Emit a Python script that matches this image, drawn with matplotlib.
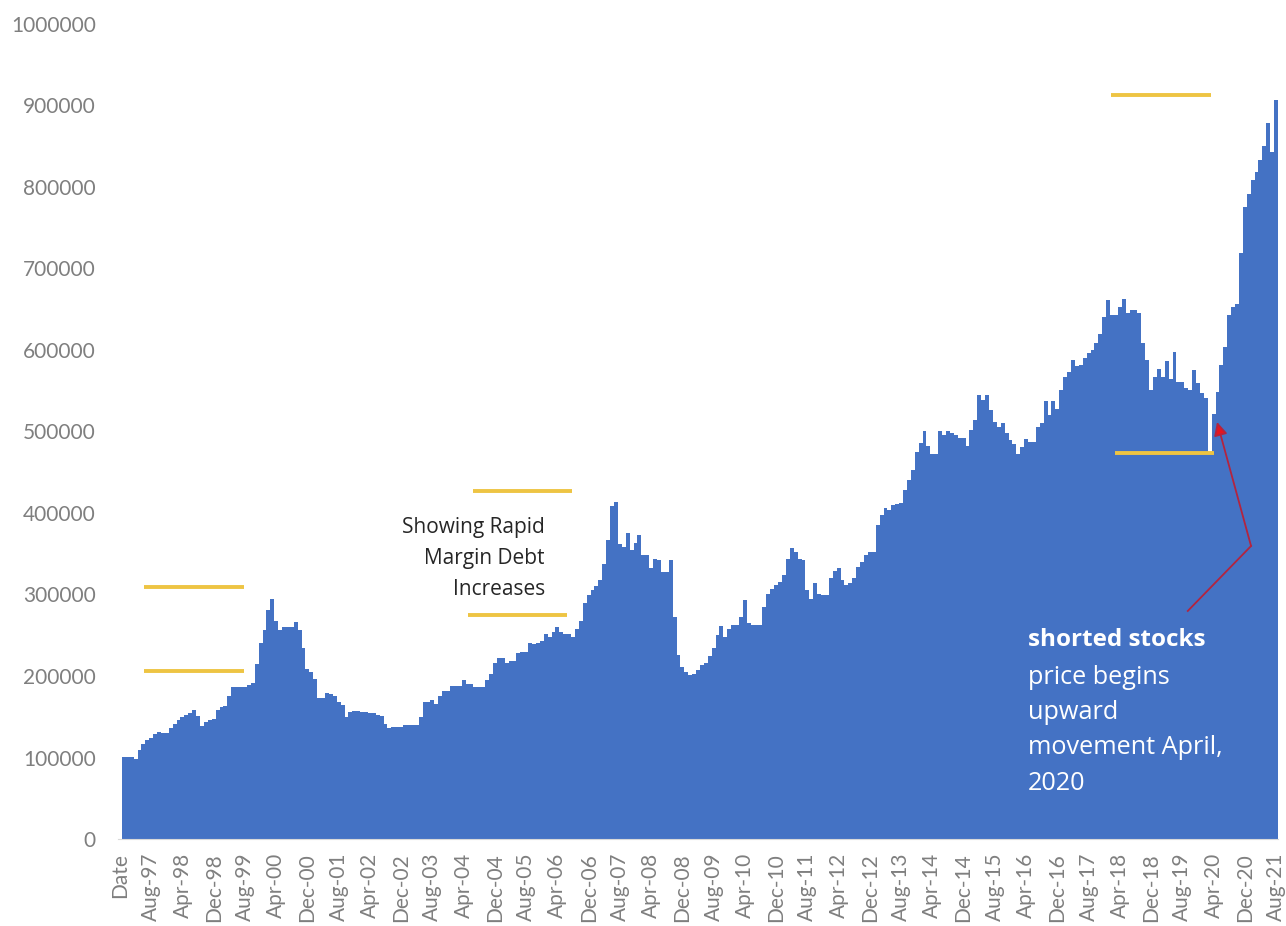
import numpy as np
import pandas as pd
import matplotlib.pyplot as plt

# monthly margin debt, in thousands, Jan-97 .. Aug-21
debt_1997 = [101, 101, 101, 98, 109, 117, 121, 124, 129, 131, 130, 130]
debt_1998 = [136, 141, 146, 150, 152, 155, 158, 151, 139, 143, 146, 147]
debt_1999 = [158, 162, 163, 176, 187, 187, 186, 187, 189, 191, 215, 241]
debt_2000 = [256, 281, 295, 267, 256, 260, 260, 260, 266, 256, 234, 208]
debt_2001 = [205, 196, 173, 173, 179, 178, 175, 168, 164, 150, 156, 157]
debt_2002 = [157, 156, 156, 155, 154, 152, 151, 141, 136, 138, 138, 138]
debt_2003 = [140, 140, 140, 140, 150, 168, 168, 171, 166, 175, 181, 181]
debt_2004 = [188, 188, 188, 195, 190, 190, 187, 187, 187, 195, 203, 216]
debt_2005 = [222, 222, 216, 218, 218, 228, 230, 230, 240, 239, 240, 243]
debt_2006 = [252, 248, 254, 260, 254, 251, 251, 248, 258, 267, 289, 299]
debt_2007 = [305, 310, 318, 338, 367, 408, 414, 362, 358, 375, 355, 363]
debt_2008 = [373, 348, 348, 332, 344, 342, 328, 328, 342, 273, 226, 211]
debt_2009 = [205, 201, 203, 207, 213, 216, 224, 234, 250, 261, 248, 258]
debt_2010 = [262, 262, 272, 293, 265, 262, 262, 262, 285, 301, 307, 312]
debt_2011 = [315, 324, 344, 357, 352, 344, 342, 305, 295, 314, 301, 299]
debt_2012 = [299, 320, 329, 332, 318, 312, 314, 320, 334, 340, 348, 352]
debt_2013 = [352, 385, 398, 406, 404, 410, 411, 412, 428, 441, 453, 475]
debt_2014 = [486, 500, 482, 473, 473, 500, 496, 500, 498, 496, 492, 492]
debt_2015 = [482, 502, 514, 545, 539, 545, 526, 512, 505, 510, 498, 490]
debt_2016 = [485, 473, 481, 491, 487, 487, 506, 510, 537, 520, 537, 528]
debt_2017 = [551, 567, 573, 588, 580, 582, 590, 596, 600, 608, 620, 641]
debt_2018 = [661, 643, 643, 653, 663, 645, 649, 649, 645, 608, 588, 551]
debt_2019 = [567, 577, 567, 586, 565, 598, 561, 561, 553, 551, 575, 559]
debt_2020 = [547, 541, 475, 522, 549, 582, 604, 643, 653, 657, 719, 776]
debt_2021 = [792, 809, 819, 833, 850, 878, 843, 907]

margin_debt = np.array(
    debt_1997 + debt_1998 + debt_1999 + debt_2000 + debt_2001 + debt_2002
    + debt_2003 + debt_2004 + debt_2005 + debt_2006 + debt_2007 + debt_2008
    + debt_2009 + debt_2010 + debt_2011 + debt_2012 + debt_2013 + debt_2014
    + debt_2015 + debt_2016 + debt_2017 + debt_2018 + debt_2019 + debt_2020
    + debt_2021) * 1000

# first category is the column header that ended up in the range
months = pd.date_range("1997-01-01", periods=len(margin_debt), freq="MS").strftime("%b-%y")
categories = ["Date"] + list(months)

blue = "#4472C4"
gold = "#EEC443"
grey = "#7F7F7F"

fig = plt.figure(figsize=(12.86, 9.26), dpi=100)
ax = fig.add_axes([118 / 1286, 87 / 926, 1160 / 1286, 815 / 926])

x = np.arange(1, len(categories))
# no antialiasing so neighbouring columns join without hairline gaps
ax.bar(x, margin_debt, width=1.0, color=blue, linewidth=0, antialiased=False)

ax.set_xlim(-0.5, len(categories) - 0.5)
ax.set_ylim(0, 1000000)
ax.set_xticks(np.arange(0, len(categories), 8))
ax.set_xticklabels(categories[::8], rotation=90, fontsize=15, color=grey, family="Lato")
ax.set_yticks(np.arange(0, 1000001, 100000))
ax.set_yticklabels([str(v) for v in range(0, 1000001, 100000)], fontsize=15, color=grey, family="Lato")
ax.tick_params(axis="both", length=0)
ax.tick_params(axis="y", pad=16)
ax.tick_params(axis="x", pad=10)
for side in ["top", "right", "left"]:
    ax.spines[side].set_visible(False)
ax.spines["bottom"].set_color("#D9D9D9")

# highlight bars
for y, x0, x1 in [(309000, 6.2, 31.8), (206000, 6.2, 31.8),
                  (427000, 90.4, 115.7), (275000, 89.1, 114.5),
                  (913000, 253.7, 279.3), (473500, 254.7, 280.1)]:
    ax.plot([x0, x1], [y, y], color=gold, lw=2.8, solid_capstyle="butt", zorder=3)

ax.text(108.8, 395000, "Showing Rapid\nMargin Debt\nIncreases", ha="right", va="top",
        fontsize=15, family="Open Sans", color="#262626", linespacing=1.62)

# arrow to the April 2020 bar
ax.plot([273.4, 289.6], [279800, 359500], color="#B3243F", lw=1.3, zorder=4)
ax.annotate("", xy=(280.9, 511700), xytext=(289.6, 359500),
            arrowprops=dict(arrowstyle="-|>", color="#B3243F", lw=1.3,
                            mutation_scale=20, shrinkA=0, shrinkB=0,
                            fc="#E8141E", ec="#B3243F"), zorder=4)

ax.text(232.5, 244000, "shorted stocks", ha="left", va="center", fontsize=17.5,
        family="Open Sans", weight="bold", color="white", zorder=5)
ax.text(232.5, 214000, "price begins\nupward\nmovement April,\n2020", ha="left", va="top",
        fontsize=18.2, family="Open Sans", color="white", linespacing=1.55, zorder=5)

fig.savefig("out.png", dpi=100)
